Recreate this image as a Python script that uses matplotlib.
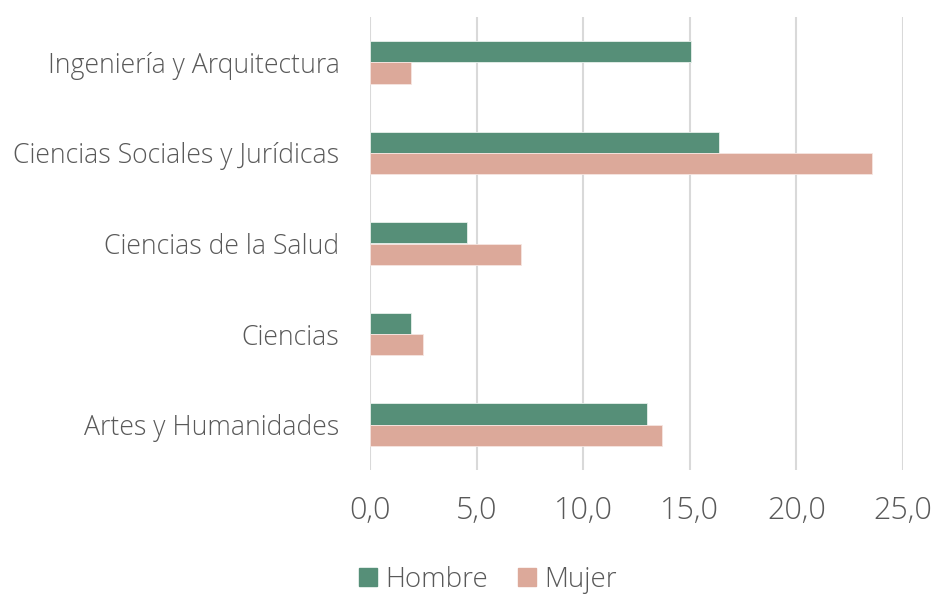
import matplotlib
matplotlib.use("Agg")
import matplotlib.pyplot as plt
import numpy as np
from matplotlib.patches import Patch

categories = ["Ingeniería y Arquitectura", "Ciencias Sociales y Jurídicas",
              "Ciencias de la Salud", "Ciencias", "Artes y Humanidades"]
hombre = [15.05, 16.35, 4.55, 1.9, 13.0]
mujer = [1.9, 23.55, 7.1, 2.5, 13.7]
xticks = [0, 5, 10, 15, 20, 25]
xticklabels = ["0,0", "5,0", "10,0", "15,0", "20,0", "25,0"]

green = "#568F78"
pink = "#DCA99A"
txt = "#595959"
font = "Open Sans"

fig = plt.figure(figsize=(9.34, 5.95), dpi=100)
ax = fig.add_axes([370/934, 1-470/595, (903-370)/934, (470-17)/595])

y = np.arange(len(categories))
h = 0.235
ax.barh(y - h/2, hombre, height=h, color=green, edgecolor="#e8f0ec", linewidth=0.6, zorder=3, label="Hombre")
ax.barh(y + h/2, mujer, height=h, color=pink, edgecolor="#f6e6e1", linewidth=0.6, zorder=3, label="Mujer")

ax.set_ylim(len(categories) - 0.5, -0.5)
ax.set_xlim(0, 25)
ax.set_yticks(y)
ax.set_yticklabels(categories, fontsize=19.2, color=txt, family=font, fontweight="light")
ax.set_xticks(xticks)
ax.set_xticklabels(xticklabels, fontsize=22, color=txt, family=font, fontweight="light")
ax.tick_params(axis="y", length=0, pad=22)
ax.tick_params(axis="x", length=0, pad=18)
ax.grid(axis="x", color="#d9d9d9", linewidth=1.5, zorder=0)
for s in ax.spines.values():
    s.set_visible(False)

handles = [Patch(color=green), Patch(color=pink)]
fig.legend(handles, ["Hombre", "Mujer"], loc="center", bbox_to_anchor=(488/934, 1-580/595),
           ncol=2, frameon=False, prop={"family": font, "size": 20, "weight": "light"},
           handlelength=0.62, handleheight=0.62, handletextpad=0.3, columnspacing=1.1,
           labelcolor=txt)

fig.savefig("out.png", dpi=100)
